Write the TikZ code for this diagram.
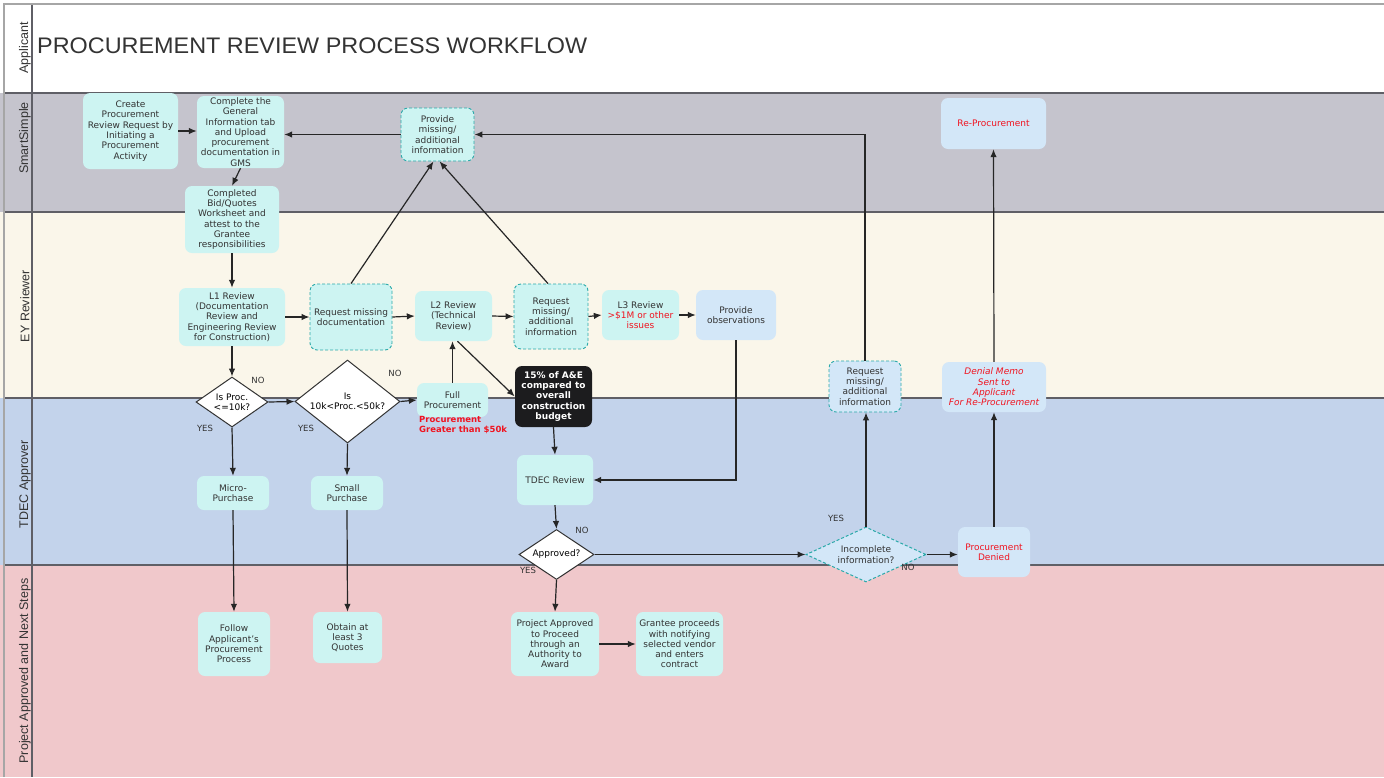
\documentclass[tikz,border=0pt]{standalone}
\usepackage{fontspec}
\setmainfont{DejaVu Sans}
\newfontfamily\lanefont{Liberation Sans}
\usetikzlibrary{shapes.geometric,arrows.meta}
\definecolor{ssgray}{HTML}{C5C4CD}
\definecolor{eycream}{HTML}{FAF6EA}
\definecolor{tdecblue}{HTML}{C3D3EB}
\definecolor{projpink}{HTML}{F0C8CB}
\definecolor{cyanfill}{HTML}{CDF4F2}
\definecolor{bluefill}{HTML}{D3E7F8}
\definecolor{dashteal}{HTML}{2AA9A9}
\definecolor{txtgray}{HTML}{333333}
\definecolor{redtxt}{HTML}{F01420}
\definecolor{lanegray}{HTML}{5F5F66}
\definecolor{blackbox}{HTML}{1C1C1E}
\newcommand\mynodefont{\fontsize{9}{10.3}\selectfont}
\newcommand\mylblfont{\fontsize{8.5}{10}\selectfont}
\begin{document}
\begin{tikzpicture}[x=1pt,y=-1pt,
  sz/.style 2 args={minimum width=#1pt,minimum height=#2pt},
  base/.style={rounded corners=7pt, align=center, font=\mynodefont, inner sep=1pt, text=txtgray},
  cbox/.style={base, fill=cyanfill},
  bbox/.style={base, fill=bluefill},
  dbox/.style={base, fill=cyanfill, draw=dashteal, dash pattern=on 3pt off 2pt, line width=0.9pt},
  dec/.style={diamond, draw=txtgray, fill=white, line width=1pt, inner sep=0pt, align=center, font=\mynodefont, text=black},
  arr/.style={-{Latex[length=8pt,width=6.5pt]}, line width=1.2pt, draw=black!85},
  lbl/.style={font=\mylblfont, text=txtgray, inner sep=0pt},
  lanelabel/.style={rotate=90, font=\lanefont\fontsize{12.5}{14}\selectfont, text=txtgray, inner sep=0pt},
  laneline/.style={draw=lanegray, line width=1.6pt}
]
\useasboundingbox (0,0) rectangle (1384,777);
% lanes
\fill[white] (0,0) rectangle (1384,93);
\fill[ssgray] (0,93) rectangle (1384,212);
\fill[eycream] (0,212) rectangle (1384,398);
\fill[tdecblue] (0,398) rectangle (1384,565);
\fill[projpink] (0,565) rectangle (1384,777);
\draw[laneline] (4,93) -- (1384,93);
\draw[laneline] (4,212) -- (1384,212);
\draw[laneline] (4,398) -- (1384,398);
\draw[laneline] (4,565) -- (1384,565);
\draw[draw=lanegray, line width=1.2pt] (32,4) -- (32,777);
\draw[draw=gray!70, line width=2pt] (4,777) -- (4,4) -- (1384,4);
\node[lanelabel] (labA) at (25,48) {Applicant};
\node[lanelabel] (labS) at (25,138) {SmartSimple};
\node[lanelabel] (labE) at (25,306) {EY Reviewer};
\node[lanelabel] (labT) at (25,484) {TDEC Approver};
\node[lanelabel] (labP) at (25,671) {Project Approved and Next Steps};
% title
\node[anchor=west, inner sep=0pt, text=txtgray, font=\lanefont\fontsize{22.5}{26}\selectfont] (title) at (37,46) {\scalebox{1.04}[1]{PROCUREMENT REVIEW PROCESS WORKFLOW}};
% SmartSimple
\node[cbox, sz={95}{76}] (create) at (130.5,131) {Create\\Procurement\\Review Request by\\Initiating a\\Procurement\\Activity};
\node[cbox, sz={87}{72}] (gms) at (240.5,132) {Complete the\\General\\Information tab\\and Upload\\procurement\\documentation in\\GMS};
\node[cbox, sz={94}{67}] (bid) at (232,219.5) {Completed\\Bid/Quotes\\Worksheet and\\attest to the\\Grantee\\responsibilities};
\node[dbox, sz={73}{53}] (provss) at (437.5,134.5) {Provide\\missing/\\additional\\information};
\node[bbox, sz={105}{51}, text=redtxt] (reproc) at (993.5,123.5) {Re-Procurement};
% EY
\node[cbox, sz={106}{58}] (l1) at (232,317) {L1 Review\\(Documentation\\Review and\\Engineering Review\\for Construction)};
\node[dbox, sz={82}{66}] (reqdoc) at (351,317) {Request missing\\documentation};
\node[cbox, sz={77}{50}] (l2) at (453.5,316) {L2 Review\\(Technical\\Review)};
\node[dbox, sz={74}{65}] (reqadd) at (551,316.5) {Request\\missing/\\additional\\information};
\node[cbox, sz={77}{50}] (l3) at (640.5,315) {L3 Review\\\textcolor{redtxt}{>\$1M or other}\\\textcolor{redtxt}{issues}};
\node[bbox, sz={80}{50}] (obs) at (736,315) {Provide\\observations};
\node[dec, sz={72}{50}, aspect=1.44] (d1) at (232,402) {Is Proc.\\<=10k?};
\node[dec, sz={105}{83}, aspect=1.265] (d2) at (347.5,401.5) {Is\\10k<Proc.<50k?};
\node[cbox, sz={71}{34}] (full) at (452.5,400) {Full\\Procurement};
\node[anchor=north west, inner sep=0pt, align=left, text=redtxt, font=\bfseries\fontsize{8.5}{10.3}\selectfont] (fullnote) at (419,416) {Procurement\\Greater than \$50k};
\node[base, fill=blackbox, text=white, font=\bfseries\mynodefont, sz={77}{61}] (black) at (553.5,396.5) {15\% of A\&E\\compared to\\overall\\construction\\budget};
% TDEC
\node[cbox, sz={72}{34}] (micro) at (233,493) {Micro-\\Purchase};
\node[cbox, sz={72}{34}] (small) at (347,493) {Small\\Purchase};
\node[cbox, sz={76}{50}] (tdec) at (555,480) {TDEC Review};
\node[dec, sz={75}{50}, aspect=1.5] (appr) at (556.5,554.5) {Approved?};
\node[dec, sz={120}{55}, aspect=2.18, draw=dashteal, fill=bluefill, dash pattern=on 3pt off 2pt, text=txtgray] (incomp) at (866,554.5) {Incomplete\\information?};
\node[bbox, sz={72}{50}, text=redtxt] (denied) at (994,552) {Procurement\\Denied};
\node[dbox, fill=bluefill, sz={72}{51}] (reqtdec) at (865,386.5) {Request\\missing/\\additional\\information};
\node[bbox, sz={104}{50}, text=redtxt, font=\itshape\mynodefont] (memo) at (994,387) {Denial Memo\\Sent to\\Applicant\\For Re-Procurement};
% Project
\node[cbox, sz={72}{64}] (follow) at (234,644) {Follow\\Applicant's\\Procurement\\Process};
\node[cbox, sz={69}{51}] (obtain) at (347.5,637.5) {Obtain at\\least 3\\Quotes};
\node[cbox, sz={88}{64}] (projappr) at (555,644) {Project Approved\\to Proceed\\through an\\Authority to\\Award};
\node[cbox, sz={87}{64}] (grantee) at (679.5,644) {Grantee proceeds\\with notifying\\selected vendor\\and enters\\contract};
% labels
\node[lbl] (no1) at (258,380) {NO};
\node[lbl] (yes1) at (205,428) {YES};
\node[lbl] (yes2) at (306,428) {YES};
\node[lbl] (no2) at (395,373) {NO};
\node[lbl] (no3) at (582,530) {NO};
\node[lbl] (yes3) at (528,570) {YES};
\node[lbl] (yes4) at (836,518) {YES};
\node[lbl] (no4) at (908,567) {NO};
% connectors
\draw[arr] (create.east) -- (gms.west |- create.east);
\draw[arr] (provss.west) -- (gms.east |- provss.west);
\draw[arr] (reqtdec.north) |- (provss.east);
\draw[arr] (gms.south) -- (bid.north);
\draw[arr] (bid.south) -- (l1.north);
\draw[arr] (l1.east) -- (reqdoc.west);
\draw[arr] (reqdoc.north) -- ([xshift=-4pt]provss.south);
\draw[arr] (reqdoc.east) -- (l2.west);
\draw[arr] (l2.east) -- (reqadd.west);
\draw[arr] ([xshift=-3pt]reqadd.north) -- ([xshift=2pt]provss.south);
\draw[arr] (reqadd.east) -- (l3.west);
\draw[arr] (l3.east) -- (obs.west);
\draw[arr] (obs.south) |- (tdec.east);
\draw[arr] (l1.south) -- (d1.north);
\draw[arr] (d1.east) -- (d2.west);
\draw[arr] (d2.east) -- (full.west);
\draw[arr] (d1.south) -- (micro.north);
\draw[arr] (d2.south) -- (small.north);
\draw[arr] (full.north) -- (full.north |- l2.south);
\draw[arr] ([xshift=4pt]l2.south) -- (black.west);
\draw[arr] (black.south) -- (tdec.north);
\draw[arr] (tdec.south) -- (appr.north);
\draw[arr] (appr.east) -- (incomp.west);
\draw[arr] (appr.south) -- (projappr.north);
\draw[arr] (incomp.north) -- (incomp.north |- reqtdec.south);
\draw[arr] (incomp.east) -- (denied.west |- incomp.east);
\draw[arr] (denied.north) -- (memo.south);
\draw[arr] (memo.north) -- (reproc.south);
\draw[arr] (micro.south) -- (follow.north);
\draw[arr] (small.south) -- (obtain.north);
\draw[arr] (projappr.east) -- (grantee.west);
\end{tikzpicture}
\end{document}
